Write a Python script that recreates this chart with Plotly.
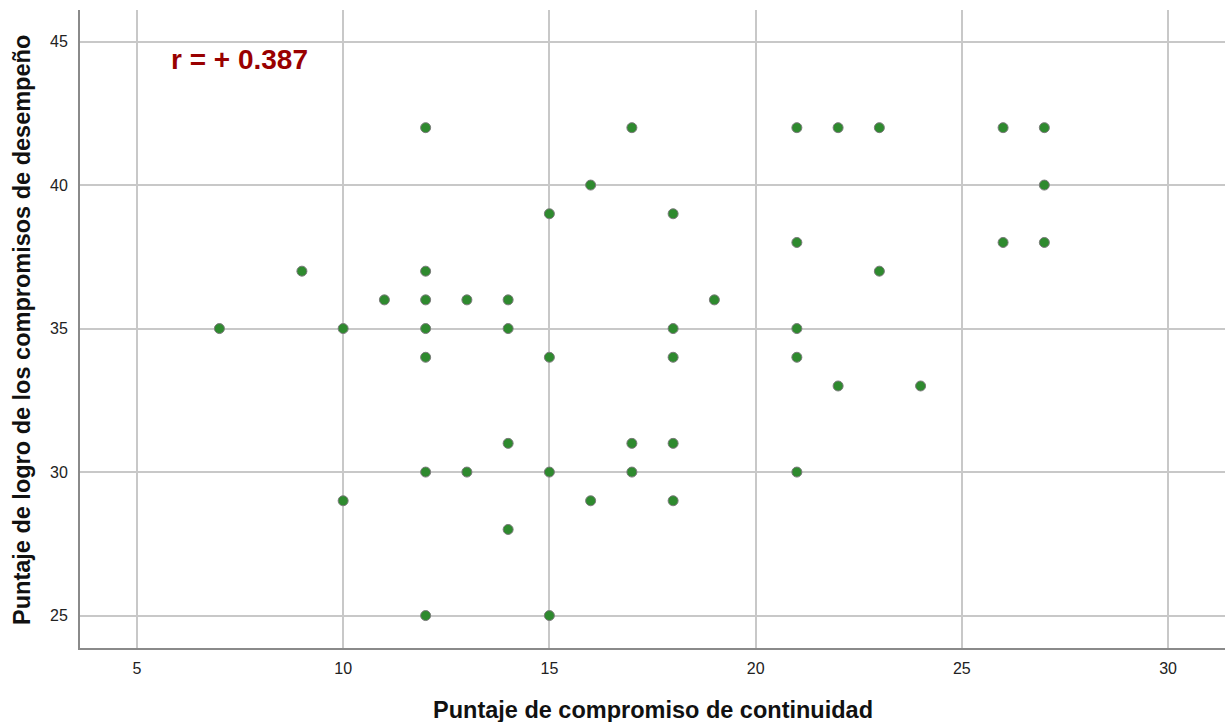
import plotly.graph_objects as go

# Puntaje de compromiso de continuidad (x) vs. logro de compromisos de desempeño (y)
continuidad = [7, 9, 10, 10, 11,
               12, 12, 12, 12, 12, 12, 12,
               13, 13,
               14, 14, 14, 14,
               15, 15, 15, 15,
               16, 16,
               17, 17, 17,
               18, 18, 18, 18, 18,
               19,
               21, 21, 21, 21, 21,
               22, 22,
               23, 23,
               24,
               26, 26,
               27, 27, 27]
desempeno = [35, 37, 35, 29, 36,
             42, 37, 36, 35, 34, 30, 25,
             36, 30,
             36, 35, 31, 28,
             39, 34, 30, 25,
             40, 29,
             42, 31, 30,
             39, 35, 34, 31, 29,
             36,
             42, 38, 35, 34, 30,
             42, 33,
             42, 37,
             33,
             42, 38,
             42, 40, 38]

x_ticks = [5, 10, 15, 20, 25, 30]
y_ticks = [25, 30, 35, 40, 45]
r_label = "r = + 0.387"

FONT = "Liberation Sans, Arial, sans-serif"
L, T, W, H = 80, 10, 1145, 638  # plot area in pixels

fig = go.Figure(go.Scatter(
    x=continuidad, y=desempeno, mode="markers",
    marker=dict(size=10, color="#2e8a2e", line=dict(color="#7a7a7a", width=1)),
    hoverinfo="x+y",
))

axis_common = dict(
    showgrid=True, gridcolor="#c8c8c8", gridwidth=1.5,
    showline=True, linecolor="#8a8a8a", linewidth=2,
    zeroline=False, ticks="",
    tickfont=dict(family=FONT, size=16, color="#222"),
)

fig.update_xaxes(range=[3.62, 31.38], tickvals=x_ticks, ticklabelstandoff=5, **axis_common)
fig.update_yaxes(range=[23.87, 46.1], tickvals=y_ticks, ticklabelstandoff=7, **axis_common)

fig.add_annotation(
    x=(169 - L) / W, y=(T + H - 60) / H, xref="paper", yref="paper",
    xanchor="left", yanchor="middle",
    text=f"<b>{r_label}</b>", showarrow=False,
    font=dict(family=FONT, size=28, color="#990000"),
)
fig.add_annotation(
    x=(653 - L) / W, y=-(710 - T - H) / H, xref="paper", yref="paper",
    xanchor="center", yanchor="middle", showarrow=False,
    text="<b>Puntaje de compromiso de continuidad</b>",
    font=dict(family=FONT, size=23.5, color="#111"),
)
fig.add_annotation(
    x=-(L - 22) / W, y=(T + H - 330) / H, xref="paper", yref="paper",
    xanchor="center", yanchor="middle", textangle=-90, showarrow=False,
    text="<b>Puntaje de logro de los compromisos de desempeño</b>",
    font=dict(family=FONT, size=23.5, color="#111"),
)

fig.update_layout(
    width=1225, height=722,
    margin=dict(l=L, r=0, t=T, b=722 - T - H),
    plot_bgcolor="white", paper_bgcolor="white",
    showlegend=False,
)

fig.write_html("out.html")
